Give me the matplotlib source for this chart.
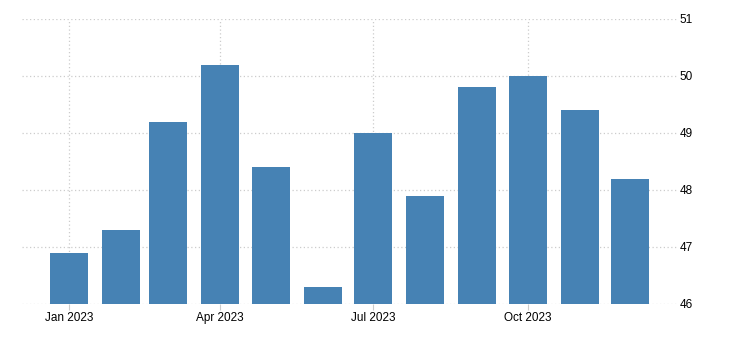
import matplotlib.pyplot as plt
import pandas as pd

plt.rcParams["font.family"] = ["Liberation Sans", "DejaVu Sans"]

# monthly values, 2023
months = pd.date_range("2023-01-01", periods=12, freq="MS")
values = [46.9, 47.3, 49.2, 50.2, 48.4, 46.3, 49.0, 47.9, 49.8, 50.0, 49.4, 48.2]
y_ticks = [46, 47, 48, 49, 50, 51]
x_ticks = pd.to_datetime(["2023-01-01", "2023-04-01", "2023-07-01", "2023-10-01"])
x_labels = ["Jan 2023", "Apr 2023", "Jul 2023", "Oct 2023"]

fig = plt.figure(figsize=(7.32, 3.51), dpi=100)
ax = fig.add_axes([0.030, 0.134, 0.895, 0.812])

ax.bar(months, [v - 46 for v in values], bottom=46, width=22.6,
       color="#4682b4", zorder=3)

ax.set_ylim(46, 51)
ax.set_xlim(pd.Timestamp("2022-12-04"), pd.Timestamp("2023-12-29"))
ax.set_yticks(y_ticks)
ax.set_xticks(x_ticks)
ax.set_xticklabels(x_labels)

ax.yaxis.tick_right()
ax.tick_params(axis="y", length=0, pad=2, labelsize=8.5, colors="#000000")
ax.tick_params(axis="x", length=4, color="#cccccc", pad=2, labelsize=8.5)

ax.grid(True, color="#cccccc", linestyle=(0, (1, 2)), linewidth=0.9, zorder=0)
for s in ax.spines.values():
    s.set_visible(False)

plt.savefig("out.png", dpi=100)
